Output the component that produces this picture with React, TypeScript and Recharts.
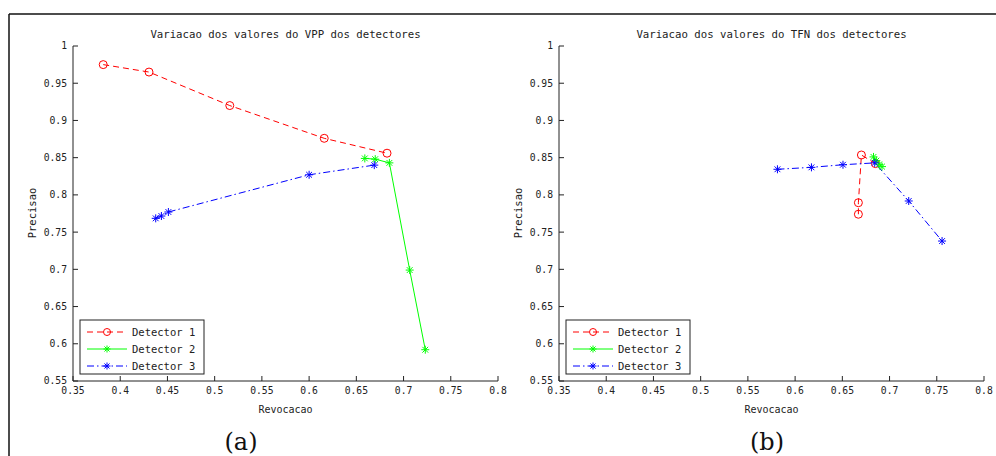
import React from 'react';
import { LineChart, Line, XAxis, YAxis } from 'recharts';

// ---- tick values ----
const recallTicks = [0.35, 0.4, 0.45, 0.5, 0.55, 0.6, 0.65, 0.7, 0.75, 0.8];
const precisionTicks = [0.55, 0.6, 0.65, 0.7, 0.75, 0.8, 0.85, 0.9, 0.95, 1];

// ---- (a) VPP ----
const vppDet1Recall = [0.382, 0.4305, 0.516, 0.616, 0.6825];
const vppDet1Precision = [0.975, 0.965, 0.92, 0.876, 0.856];
const vppDet2Recall = [0.659, 0.67, 0.685, 0.7065, 0.723];
const vppDet2Precision = [0.849, 0.848, 0.843, 0.699, 0.592];
const vppDet3Recall = [0.4376, 0.4436, 0.451, 0.6, 0.669];
const vppDet3Precision = [0.7685, 0.7716, 0.777, 0.827, 0.84];

// ---- (b) TFN ----
const tfnDet1Recall = [0.667, 0.667, 0.6702, 0.685];
const tfnDet1Precision = [0.774, 0.7895, 0.8536, 0.842];
const tfnDet2Recall = [0.683, 0.686, 0.689, 0.692];
const tfnDet2Precision = [0.851, 0.846, 0.841, 0.838];
const tfnDet3Recall = [0.5813, 0.6173, 0.6507, 0.6843, 0.7203, 0.7556];
const tfnDet3Precision = [0.8344, 0.837, 0.8405, 0.843, 0.7918, 0.738];

const seriesNames = ['Detector 1', 'Detector 2', 'Detector 3'];
const seriesColors = ['#ff0000', '#00ff00', '#0000ff'];
const seriesDash = ['6 4', undefined, '7 3 1.5 3'];

const zip = (xs: number[], ys: number[]) => xs.map((x, i) => ({ x, y: ys[i] }));

const FONT = '"DejaVu Sans Mono", monospace';
const INK = '#222';

const StarShape = (color: string, r = 4) => (props: any) => {
  const { cx, cy, index } = props;
  if (cx == null || cy == null) return <g key={index} />;
  const d = r * 0.72;
  return (
    <g key={index} stroke={color} strokeWidth={1}>
      <line x1={cx - r} y1={cy} x2={cx + r} y2={cy} />
      <line x1={cx} y1={cy - r} x2={cx} y2={cy + r} />
      <line x1={cx - d} y1={cy - d} x2={cx + d} y2={cy + d} />
      <line x1={cx - d} y1={cy + d} x2={cx + d} y2={cy - d} />
    </g>
  );
};

const CircleShape = (color: string, r = 4) => (props: any) => {
  const { cx, cy, index } = props;
  if (cx == null || cy == null) return <g key={index} />;
  return <circle key={index} cx={cx} cy={cy} r={r} fill="none" stroke={color} strokeWidth={1} />;
};

type Series = { x: number; y: number }[];

function Panel({ left, series }: { left: number; series: Series[] }) {
  const tickStyle = { fontFamily: FONT, fontSize: 9.7, fill: INK };
  return (
    <div style={{ position: 'absolute', left, top: 0, width: 520, height: 456 }}>
      <LineChart width={520} height={456} margin={{ top: 46, right: 22, bottom: 45, left: 33 }}>
        <XAxis
          xAxisId="b"
          type="number"
          dataKey="x"
          domain={[0.35, 0.8]}
          ticks={recallTicks}
          allowDataOverflow
          interval={0}
          height={30}
          tickSize={-5}
          tickMargin={11}
          tick={tickStyle}
          stroke={INK}
          tickLine={{ stroke: INK }}
        />
        <XAxis
          xAxisId="t"
          orientation="top"
          type="number"
          dataKey="x"
          domain={[0.35, 0.8]}
          ticks={recallTicks}
          allowDataOverflow
          interval={0}
          height={0}
          tickSize={-5}
          tick={false}
          stroke={INK}
          tickLine={{ stroke: INK }}
        />
        <YAxis
          yAxisId="l"
          type="number"
          dataKey="y"
          domain={[0.55, 1]}
          ticks={precisionTicks}
          allowDataOverflow
          interval={0}
          width={40}
          tickSize={-5}
          tickMargin={11}
          tick={tickStyle}
          stroke={INK}
          tickLine={{ stroke: INK }}
        />
        <YAxis
          yAxisId="r"
          orientation="right"
          type="number"
          dataKey="y"
          domain={[0.55, 1]}
          ticks={precisionTicks}
          allowDataOverflow
          interval={0}
          width={0}
          tickSize={-5}
          tick={false}
          stroke={INK}
          tickLine={{ stroke: INK }}
        />
        {series.map((data, i) => (
          <Line
            key={seriesNames[i]}
            name={seriesNames[i]}
            xAxisId="b"
            yAxisId="l"
            data={data}
            dataKey="y"
            type="linear"
            stroke={seriesColors[i]}
            strokeWidth={1}
            strokeDasharray={seriesDash[i]}
            dot={i === 0 ? CircleShape(seriesColors[i]) : StarShape(seriesColors[i])}
            activeDot={false}
            isAnimationActive={false}
          />
        ))}
      </LineChart>
    </div>
  );
}

function LegendBox({ x, y }: { x: number; y: number }) {
  return (
    <g>
      <rect x={x} y={y} width={124} height={54} fill="#fff" stroke={INK} strokeWidth={1} />
      {seriesNames.map((name, i) => {
        const cy = y + 12 + i * 17;
        const mx = x + 27;
        return (
          <g key={name}>
            <line x1={x + 7} y1={cy} x2={x + 47} y2={cy} stroke={seriesColors[i]} strokeWidth={1} strokeDasharray={seriesDash[i]} />
            {i === 0
              ? CircleShape(seriesColors[i], 3.5)({ cx: mx, cy, index: 0 })
              : StarShape(seriesColors[i], 3.5)({ cx: mx, cy, index: 0 })}
            <text x={x + 52} y={cy + 4} fontFamily={FONT} fontSize={10.5} fill={INK}>
              {name}
            </text>
          </g>
        );
      })}
    </g>
  );
}

function Overlay() {
  const panels = [
    { off: 0, title: 'Variacao dos valores do VPP dos detectores', cap: '(a)', capX: 241 },
    { off: 486, title: 'Variacao dos valores do TFN dos detectores', cap: '(b)', capX: 767 },
  ];
  return (
    <svg width={996} height={456} style={{ position: 'absolute', left: 0, top: 0, pointerEvents: 'none' }}>
      <line x1={9} y1={14} x2={996} y2={14} stroke="#111" strokeWidth={1.5} />
      <line x1={9} y1={14} x2={9} y2={456} stroke="#111" strokeWidth={1.5} />
      {panels.map((p) => (
        <g key={p.cap}>
          <text x={p.off + 285.5} y={38} textAnchor="middle" fontFamily={FONT} fontSize={10.7} fill={INK}>
            {p.title}
          </text>
          <text x={p.off + 285.5} y={413} textAnchor="middle" fontFamily={FONT} fontSize={10} fill={INK}>
            Revocacao
          </text>
          <text
            x={p.off + 36}
            y={213}
            textAnchor="middle"
            fontFamily={FONT}
            fontSize={10.5}
            fill={INK}
            transform={`rotate(-90 ${p.off + 36} 213)`}
          >
            Precisao
          </text>
          <LegendBox x={p.off + 80} y={320} />
          <text x={p.capX} y={450} textAnchor="middle" fontFamily='"DejaVu Serif", serif' fontSize={24} fill="#111">
            {p.cap}
          </text>
        </g>
      ))}
    </svg>
  );
}

export default function App() {
  const left: Series[] = [
    zip(vppDet1Recall, vppDet1Precision),
    zip(vppDet2Recall, vppDet2Precision),
    zip(vppDet3Recall, vppDet3Precision),
  ];
  const right: Series[] = [
    zip(tfnDet1Recall, tfnDet1Precision),
    zip(tfnDet2Recall, tfnDet2Precision),
    zip(tfnDet3Recall, tfnDet3Precision),
  ];
  return (
    <div style={{ position: 'absolute', left: 0, top: 0, width: 996, height: 456, background: '#fff', overflow: 'hidden' }}>
      <Panel left={0} series={left} />
      <Panel left={486} series={right} />
      <Overlay />
    </div>
  );
}
